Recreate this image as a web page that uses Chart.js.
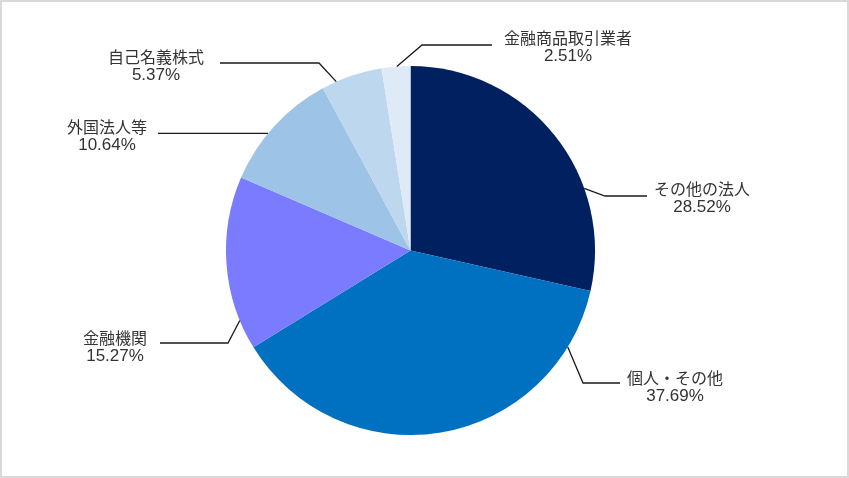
<!DOCTYPE html>
<html>
<head>
<meta charset="utf-8">
<script src="https://cdn.jsdelivr.net/npm/chart.js@4"></script>
<style>
  html, body { margin: 0; padding: 0; background: #fff; }
  #wrap { position: relative; width: 849px; height: 478px; }
  #frame { position: absolute; left: 0; top: 0; width: 849px; height: 478px; box-sizing: border-box; border: 2px solid #d9d9d9; pointer-events: none; }
  canvas { position: absolute; left: 0; top: 0; }
</style>
</head>
<body>
<div id="wrap">
  <canvas id="c" width="849" height="478"></canvas>
  <div id="frame"></div>
</div>
<script>
const categories = ['その他の法人', '個人・その他', '金融機関', '外国法人等', '自己名義株式', '金融商品取引業者'];
const values = [28.52, 37.69, 15.27, 10.64, 5.37, 2.51];
const colors = ['#002060', '#0070C0', '#7B7BFF', '#9DC3E6', '#BDD7EE', '#DEEBF7'];

// label layout: anchor fraction within slice, elbow/end/text offsets from pie centre
const labelLayout = [
  { frac: 0.685, elbow: [194.5, -54.5], end: [236.5, -54.5], text: [291.5, -61.5] },
  { frac: 0.139, elbow: [172.5, 132.5], end: [209.5, 132.5], text: [264.5, 127.5] },
  { frac: 0.17,  elbow: [-182.5, 92.5], end: [-250.5, 92.5], text: [-295.5, 87.5] },
  { frac: 0.42,  elbow: null,           end: [-252.5, -117.5], text: [-303.5, -123.5] },
  { frac: 0.24,  elbow: [-91.5, -187.5], end: [-190.5, -187.5], text: [-254.5, -193.5] },
  { frac: 0.53,  elbow: [11.5, -205.5], end: [81.5, -205.5], text: [157.5, -212.5] }
];

const labelPlugin = {
  id: 'leaderLabels',
  afterDatasetsDraw(chart) {
    const ctx = chart.ctx;
    const meta = chart.getDatasetMeta(0);
    meta.data.forEach((arc, i) => {
      const p = arc.getProps(['x', 'y', 'startAngle', 'endAngle', 'outerRadius'], true);
      const L = labelLayout[i];
      const a = p.startAngle + L.frac * (p.endAngle - p.startAngle);
      const ax = p.x + p.outerRadius * Math.cos(a);
      const ay = p.y + p.outerRadius * Math.sin(a);
      ctx.save();
      ctx.strokeStyle = '#1a1a1a';
      ctx.lineWidth = 1.3;
      ctx.beginPath();
      ctx.moveTo(ax, ay);
      if (L.elbow) ctx.lineTo(p.x + L.elbow[0], p.y + L.elbow[1]);
      ctx.lineTo(p.x + L.end[0], p.y + (L.elbow ? L.end[1] : ay - p.y));
      ctx.stroke();
      ctx.fillStyle = '#333333';
      ctx.textAlign = 'center';
      ctx.textBaseline = 'middle';
      ctx.font = '16px "Noto Sans CJK JP", sans-serif';
      const tx = p.x + L.text[0];
      const ty = p.y + L.text[1];
      ctx.fillText(categories[i], tx, ty);
      ctx.font = '17px "Liberation Sans", Arial, sans-serif';
      ctx.fillText(values[i].toFixed(2) + '%', tx, ty + 18);
      ctx.restore();
    });
  }
};

new Chart(document.getElementById('c'), {
  type: 'pie',
  data: {
    labels: categories,
    datasets: [{
      data: values,
      backgroundColor: colors,
      borderWidth: 0
    }]
  },
  options: {
    responsive: false,
    animation: false,
    devicePixelRatio: 1,
    layout: { padding: { top: 66, bottom: 43, left: 226, right: 254 } },
    plugins: { legend: { display: false }, tooltip: { enabled: false } }
  },
  plugins: [labelPlugin]
});
</script>
</body>
</html>
